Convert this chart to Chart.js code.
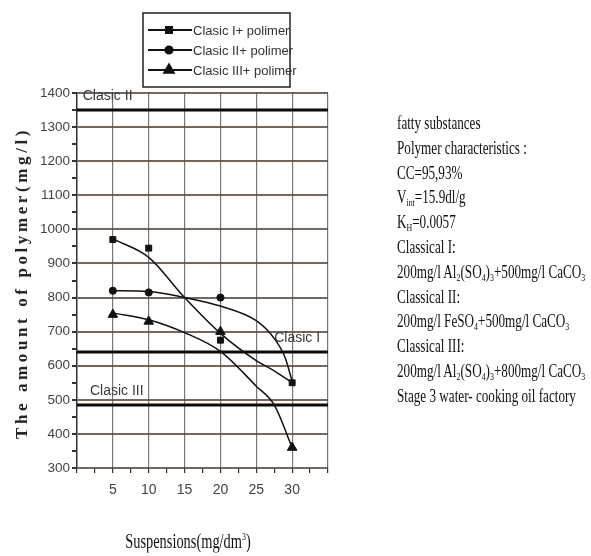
<!DOCTYPE html>
<html>
<head>
<meta charset="utf-8">
<script src="https://cdn.jsdelivr.net/npm/chart.js@4.4.1/dist/chart.umd.min.js"></script>
<style>
  html, body { margin: 0; padding: 0; background: #fff; }
  #wrap { position: relative; width: 591px; height: 556px; overflow: hidden; background: #fff; }
  #c { position: absolute; left: 0; top: 0; }
  .note { position: absolute; left: 397px; top: 111px; font-family: "Liberation Serif", "Times New Roman", serif; font-size: 18px; color: #111; }
  .note div { height: 24.8px; line-height: 24.8px; white-space: nowrap; transform: scaleX(0.73); transform-origin: left center; }
  .note sub { font-size: 0.6em; vertical-align: -0.25em; line-height: 0; }
  #ytitle { position: absolute; left: 22px; top: 283px; transform: translate(-50%, -50%) rotate(-90deg);
            font-family: "Liberation Serif", "Times New Roman", serif; font-weight: bold; font-size: 17px;
            letter-spacing: 3.6px; white-space: nowrap; color: #222; }
  #xtitle { position: absolute; left: 188px; top: 541px; transform: translate(-50%, -50%) scaleX(0.72);
            font-family: "Liberation Serif", "Times New Roman", serif; font-size: 20px; white-space: nowrap; color: #111; }
  #xtitle sup { font-size: 0.55em; vertical-align: 0.7em; line-height: 0; }
</style>
</head>
<body>
<div id="wrap">
  <canvas id="c" width="591" height="556"></canvas>
  <div id="ytitle">The amount of polymer(mg/l)</div>
  <div id="xtitle">Suspensions(mg/dm<sup>3</sup>)</div>
  <div class="note">
    <div>fatty substances</div>
    <div>Polymer characteristics :</div>
    <div>CC=95,93%</div>
    <div>V<sub>int</sub>=15.9dl/g</div>
    <div>K<sub>H</sub>=0.0057</div>
    <div>Classical I:</div>
    <div>200mg/l Al<sub>2</sub>(SO<sub>4</sub>)<sub>3</sub>+500mg/l CaCO<sub>3</sub></div>
    <div>Classical II:</div>
    <div>200mg/l FeSO<sub>4</sub>+500mg/l CaCO<sub>3</sub></div>
    <div>Classical III:</div>
    <div>200mg/l Al<sub>2</sub>(SO<sub>4</sub>)<sub>3</sub>+800mg/l CaCO<sub>3</sub></div>
    <div>Stage 3 water- cooking oil factory</div>
  </div>
</div>
<script>
// ---------------- data ----------------
const seriesNames = ['Clasic I+ polimer', 'Clasic II+ polimer', 'Clasic III+ polimer'];

// measured points (markers)
const pointsIX   = [5, 10, 20, 30];
const pointsI    = [970, 945, 675, 550];
const pointsIIX  = [5, 10, 20];
const pointsII   = [820, 815, 800];
const pointsIIIX = [5, 10, 20, 30];
const pointsIII  = [750, 730, 700, 360];

// fitted curves
const curveIX   = [5, 10, 15, 20, 25, 27.5, 30];
const curveI    = [972, 918, 800, 695, 615, 585, 550];
const curveIIX  = [5, 10, 15, 20, 25, 27.5, 29, 30];
const curveII   = [820, 818, 800, 775, 732, 680, 625, 555];
const curveIIIX = [5, 10, 15, 20, 25, 27.5, 30];
const curveIII  = [755, 735, 697, 642, 540, 485, 360];

// reference levels (classical treatments)
const refNames  = ['Clasic II', 'Clasic I', 'Clasic III'];
const refLevels = [1350, 640, 485];

// axes
const xMin = 0, xMax = 35, xStep = 2.5, xLabelStep = 5;
const yMin = 300, yMax = 1400, yStep = 50, yLabelStep = 100;

// ---------------- styles ----------------
const ink = '#111';
const sans = '"Liberation Sans", Arial, sans-serif';
const markerStyles = [
  { pointStyle: 'rect', radius: 4.2 },
  { pointStyle: 'circle', radius: 3.6 },
  { pointStyle: 'triangle', radius: 5.5 }
];
// label placement for the reference lines: [x value, alignment]
const refLabelPlacement = [
  { x: 0.8, align: 'left' },
  { x: 33.9, align: 'right' },
  { x: 1.8, align: 'left' }
];

const toXY = (xs, ys) => xs.map((x, i) => ({ x: x, y: ys[i] }));

const curves = [toXY(curveIX, curveI), toXY(curveIIX, curveII), toXY(curveIIIX, curveIII)];
const points = [toXY(pointsIX, pointsI), toXY(pointsIIX, pointsII), toXY(pointsIIIX, pointsIII)];

const datasets = [];
refLevels.forEach((lvl, i) => {
  datasets.push({
    label: refNames[i], data: [{ x: xMin, y: lvl }, { x: xMax, y: lvl }],
    showLine: true, borderColor: '#0c0c0c', borderWidth: 3, pointRadius: 0, order: 5
  });
});
seriesNames.forEach((name, i) => {
  datasets.push({
    label: name, data: curves[i], showLine: true, borderColor: ink, borderWidth: 1.5,
    pointRadius: 0, cubicInterpolationMode: 'monotone', order: 2
  });
  datasets.push({
    label: name + ' points', data: points[i], showLine: false,
    pointStyle: markerStyles[i].pointStyle, pointRadius: markerStyles[i].radius,
    backgroundColor: ink, borderColor: ink, borderWidth: 1, order: 1
  });
});

// ---------------- plugins ----------------
const boxLegend = {
  id: 'boxLegend',
  afterDraw(chart) {
    const ctx = chart.ctx;
    ctx.save();
    ctx.strokeStyle = '#222';
    ctx.lineWidth = 1.5;
    ctx.strokeRect(143, 13, 147, 74);
    ctx.font = '13px ' + sans;
    ctx.textBaseline = 'middle';
    ctx.textAlign = 'left';
    seriesNames.forEach((name, i) => {
      const y = 30 + i * 20;
      ctx.strokeStyle = ink;
      ctx.lineWidth = 2;
      ctx.beginPath(); ctx.moveTo(148, y); ctx.lineTo(192, y); ctx.stroke();
      ctx.fillStyle = ink;
      Chart.helpers.drawPoint(ctx, {
        pointStyle: markerStyles[i].pointStyle, radius: markerStyles[i].radius, rotation: 0, borderWidth: 1
      }, 169, y);
      ctx.fill();
      ctx.fillStyle = '#333';
      ctx.fillText(name, 193, y + 1);
    });
    ctx.restore();
  }
};

const refLabels = {
  id: 'refLabels',
  afterDatasetsDraw(chart) {
    const ctx = chart.ctx, xs = chart.scales.x, ys = chart.scales.y;
    ctx.save();
    ctx.font = '14px ' + sans;
    ctx.fillStyle = '#3a3a3a';
    ctx.textBaseline = 'middle';
    refLevels.forEach((lvl, i) => {
      const p = refLabelPlacement[i];
      ctx.textAlign = p.align;
      ctx.fillText(refNames[i], xs.getPixelForValue(p.x), ys.getPixelForValue(lvl) - 14);
    });
    ctx.restore();
  }
};

// ---------------- chart ----------------
new Chart(document.getElementById('c'), {
  type: 'scatter',
  data: { datasets: datasets },
  options: {
    responsive: false,
    animation: false,
    layout: { padding: { top: 93, right: 263, left: 0, bottom: 0 } },
    plugins: { legend: { display: false }, tooltip: { enabled: false } },
    scales: {
      x: {
        type: 'linear', min: xMin, max: xMax,
        afterFit: s => { s.height = 88; },
        ticks: {
          stepSize: xStep, autoSkip: false, maxRotation: 0, padding: 9,
          color: '#444', font: { family: sans, size: 14 },
          callback: v => (v % xLabelStep === 0 && v > xMin && v < xMax) ? String(v) : ''
        },
        grid: {
          color: c => (c.tick && c.tick.value % xLabelStep === 0 && c.tick.value > xMin) ? '#777' : 'rgba(0,0,0,0)',
          lineWidth: 1.2, tickColor: '#333', tickLength: 5
        },
        border: { display: false }
      },
      y: {
        type: 'linear', min: yMin, max: yMax,
        afterFit: s => { s.width = 77; },
        ticks: {
          stepSize: yStep, autoSkip: false, padding: 2,
          color: '#444', font: { family: sans, size: 13.5 },
          callback: v => (v % yLabelStep === 0) ? String(v) : ''
        },
        grid: {
          color: c => (c.tick && c.tick.value % yLabelStep === 0) ? 'rgba(95,75,60,0.85)' : 'rgba(0,0,0,0)',
          lineWidth: 2, tickColor: '#333', tickLength: 5
        },
        border: { display: true, color: '#333', width: 1.5 }
      }
    }
  },
  plugins: [boxLegend, refLabels]
});
</script>
</body>
</html>
